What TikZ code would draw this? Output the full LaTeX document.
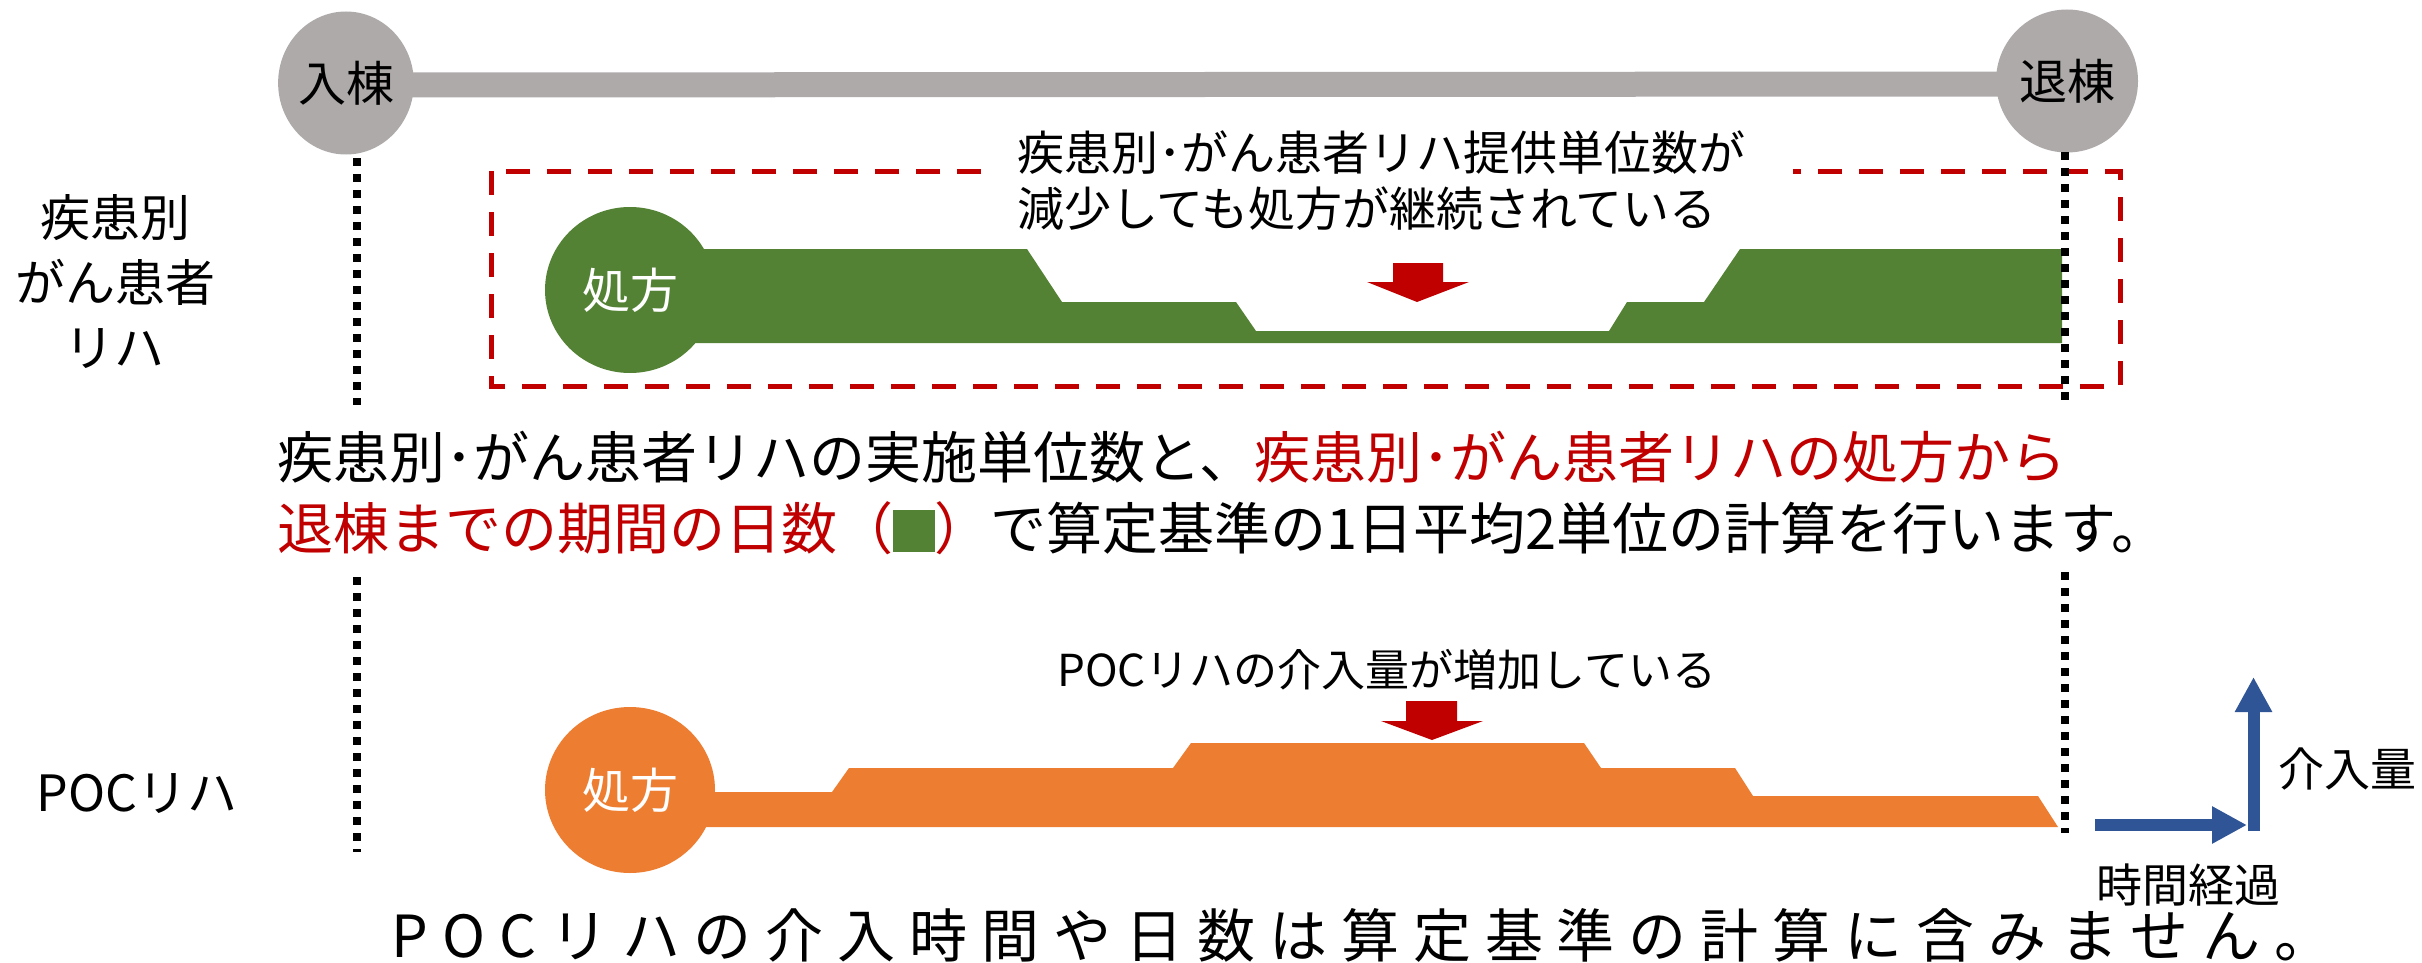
\documentclass[tikz,border=0pt]{standalone}
\usepackage{fontspec}
\setmainfont{Noto Sans CJK JP}
\newfontfamily\jpls[LetterSpace=24]{Noto Sans CJK JP}
\usetikzlibrary{shapes.geometric,arrows.meta,backgrounds}
\definecolor{cgray}{HTML}{AEAAAA}
\definecolor{cgreen}{HTML}{548235}
\definecolor{corange}{HTML}{ED7D31}
\definecolor{cred}{HTML}{C00000}
\definecolor{cblue}{HTML}{2F5597}
\newcommand\fsz[2]{\fontsize{#1pt}{#2pt}\selectfont}
\begin{document}
\begin{tikzpicture}[x=1pt,y=-1pt,
  lbl/.style={inner sep=0pt},
  endpt/.style={ellipse, fill=cgray, inner sep=0pt, minimum height=143pt, font=\fsz{48}{56}},
  rx/.style={ellipse, inner sep=0pt, minimum width=170pt, minimum height=166pt, text=white, font=\fsz{48}{56}},
  dotv/.style={line width=8pt, dash pattern=on 8pt off 8pt},
  redbox/.style={draw=cred, line width=5pt, dash pattern=on 24pt off 17pt},
  graybar/.style={draw=cgray, line width=25pt},
  barrow/.style={draw=cblue, line width=12pt, -{Triangle[length=35pt,width=35pt]}},
  callout/.style={inner sep=0pt, font=\fsz{44}{50}}
]
\useasboundingbox (0,0) rectangle (2422,963);

% timeline
\node[endpt, minimum width=124pt] (in) at (346,83) {入棟};
\node[endpt, minimum width=142pt] (out) at (2067,81) {退棟};
\begin{scope}[on background layer]
\draw[graybar] ([yshift=-2pt]in.center) -- ([yshift=-3pt]out.center);
\end{scope}

% row labels
\node[lbl, align=center, font=\fsz{50}{65}] (lab1) at (115,282) {疾患別\\がん患者\\リハ};
\node[lbl, font=\fsz{50}{60}] (lab2) at (137,794) {POCリハ};

% red dashed box
\draw[redbox] (491,171) rectangle (2120,386);

% green amount
\fill[cgreen] (630,249) -- (1027,249) -- (1062,302) -- (1236,302) -- (1256,331) -- (1609,331)
  -- (1627,302) -- (1704,302) -- (1740,249) -- (2062,249) -- (2062,343) -- (630,343) -- cycle;
\node[rx, fill=cgreen] (rx1) at (630,290) {処方};
\fill[cred] (1393,263) -- (1443,263) -- (1443,282) -- (1469,282) -- (1417,302) -- (1367,282) -- (1393,282) -- cycle;

% callout 1
\node[fill=white, inner xsep=21pt, inner ysep=6pt, text width=755pt, align=left, font=\fsz{47}{56}] (c1) at (1394.5,181)
  {疾患別･がん患者リハ提供単位数が\\減少しても処方が継続されている};

% dotted lines
\coordinate (la1) at (357,158); \coordinate (lb1) at (357,405);
\coordinate (la2) at (357,577); \coordinate (lb2) at (357,852);
\coordinate (ra1) at (2065,152); \coordinate (rb1) at (2065,402);
\coordinate (ra2) at (2065,572); \coordinate (rb2) at (2065,833);
\draw[dotv] (la1) -- (lb1);
\draw[dotv] (la2) -- (lb2);
\draw[dotv] (ra1) -- (rb1);
\draw[dotv] (ra2) -- (rb2);

% main text
\node[lbl, anchor=west, font=\fsz{56}{71}] (m1) at (277,457)
  {疾患別･がん患者リハの実施単位数と、\textcolor{cred}{疾患別･がん患者リハの処方から}};
\node[lbl, anchor=west, font=\fsz{56}{71}] (m2) at (277,528)
  {\textcolor{cred}{退棟までの期間の日数（\textcolor{cgreen}{\rule[-0.05em]{0.74em}{0.75em}}）}で算定基準の1日平均2単位の計算を行います。};

% callout 2
\node[callout] (c2) at (1387,670) {POCリハの介入量が増加している};

% orange amount
\fill[corange] (630,792) -- (832,792) -- (849,768) -- (1173,768) -- (1191,743) -- (1584,743) -- (1601,768)
  -- (1735,768) -- (1753,796) -- (2038,796) -- (2058,827) -- (630,827) -- cycle;
\node[rx, fill=corange] (rx2) at (630,790) {処方};
\fill[cred] (1406,701) -- (1457,701) -- (1457,721) -- (1483,721) -- (1432,740) -- (1381,721) -- (1406,721) -- cycle;

% axes
\coordinate (hs) at (2095,825); \coordinate (he) at (2247,825);
\coordinate (vs) at (2253.5,831); \coordinate (ve) at (2253.5,677);
\draw[barrow] (hs) -- (he);
\draw[barrow] (vs) -- (ve);
\node[lbl, font=\fsz{46}{50}] (ax1) at (2347,769) {介入量};
\node[lbl, font=\fsz{46}{50}] (ax2) at (2188,885) {時間経過};

% bottom text
\node[lbl, font=\jpls\fsz{58}{62}] (bt) at (1362,935) {POCリハの介入時間や日数は算定基準の計算に含みません。};
\end{tikzpicture}
\end{document}
